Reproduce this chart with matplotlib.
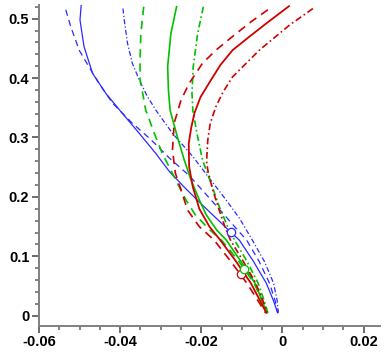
import matplotlib
matplotlib.use("Agg")
import matplotlib.pyplot as plt
from matplotlib.ticker import MultipleLocator

plt.rcParams['font.family'] = ['Liberation Sans', 'DejaVu Sans']
plt.rcParams['axes.unicode_minus'] = False

# ---- data (x, y), top to bottom ----
blue_solid_x = [-0.0496, -0.0499, -0.0494, -0.0489, -0.0468, -0.0435, -0.0395, -0.0353, -0.0312, -0.0279, -0.0240, -0.0200, -0.0160, -0.0128, -0.0106, -0.0072, -0.0040, -0.0022, -0.0012]
blue_solid_y = [0.523, 0.498, 0.475, 0.453, 0.408, 0.374, 0.341, 0.307, 0.273, 0.243, 0.215, 0.188, 0.162, 0.141, 0.127, 0.092, 0.055, 0.025, 0.005]

blue_dash_x = [-0.0534, -0.0522, -0.0501, -0.0477, -0.0452, -0.0419, -0.0370, -0.0325, -0.0278, -0.0230, -0.0184, -0.0150, -0.0118, -0.0088, -0.0058, -0.0032, -0.0018, -0.0012]
blue_dash_y = [0.515, 0.487, 0.447, 0.419, 0.391, 0.358, 0.324, 0.297, 0.265, 0.236, 0.201, 0.175, 0.150, 0.127, 0.092, 0.055, 0.025, 0.005]

blue_dd_x = [-0.0393, -0.0390, -0.0382, -0.0370, -0.0353, -0.0333, -0.0310, -0.0271, -0.0221, -0.0183, -0.0139, -0.0106, -0.0074, -0.0045, -0.0022, -0.0013, -0.0010]
blue_dd_y = [0.517, 0.498, 0.459, 0.425, 0.397, 0.369, 0.344, 0.307, 0.268, 0.234, 0.195, 0.164, 0.127, 0.092, 0.055, 0.025, 0.005]

green_solid_x = [-0.0261, -0.0275, -0.0283, -0.0281, -0.0277, -0.0259, -0.0242, -0.0225, -0.0205, -0.0188, -0.0163, -0.0138, -0.0103, -0.0068, -0.0050, -0.0038]
green_solid_y = [0.520, 0.475, 0.419, 0.380, 0.346, 0.301, 0.262, 0.228, 0.195, 0.170, 0.145, 0.127, 0.092, 0.055, 0.025, 0.005]

green_dash_x = [-0.0342, -0.0349, -0.0351, -0.0351, -0.0343, -0.0337, -0.0328, -0.0316, -0.0296, -0.0267, -0.0238, -0.0215, -0.0180, -0.0150, -0.0108, -0.0070, -0.0050, -0.0038]
green_dash_y = [0.520, 0.475, 0.430, 0.397, 0.369, 0.346, 0.330, 0.307, 0.273, 0.234, 0.195, 0.170, 0.145, 0.127, 0.092, 0.055, 0.025, 0.005]

green_dd_x = [-0.0195, -0.0209, -0.0220, -0.0223, -0.0221, -0.0209, -0.0197, -0.0176, -0.0156, -0.0135, -0.0118, -0.0088, -0.0060, -0.0045, -0.0036]
green_dd_y = [0.520, 0.475, 0.419, 0.374, 0.346, 0.301, 0.262, 0.223, 0.184, 0.150, 0.127, 0.092, 0.055, 0.025, 0.005]

red_solid_x = [0.0016, -0.0040, -0.0081, -0.0123, -0.0153, -0.0176, -0.0202, -0.0217, -0.0225, -0.0231, -0.0230, -0.0221, -0.0205, -0.0180, -0.0153, -0.0115, -0.0078, -0.0055, -0.0040]
red_solid_y = [0.521, 0.492, 0.470, 0.447, 0.422, 0.397, 0.368, 0.341, 0.316, 0.290, 0.251, 0.217, 0.180, 0.150, 0.127, 0.092, 0.055, 0.025, 0.005]

red_dash_x = [-0.0036, -0.0077, -0.0123, -0.0164, -0.0197, -0.0230, -0.0250, -0.0267, -0.0271, -0.0264, -0.0250, -0.0234, -0.0205, -0.0168, -0.0128, -0.0088, -0.0060, -0.0042]
red_dash_y = [0.515, 0.495, 0.470, 0.447, 0.425, 0.391, 0.363, 0.324, 0.279, 0.240, 0.212, 0.178, 0.150, 0.127, 0.092, 0.055, 0.025, 0.005]

red_dd_x = [0.0075, 0.0017, -0.0057, -0.0123, -0.0146, -0.0164, -0.0178, -0.0184, -0.0187, -0.0184, -0.0172, -0.0156, -0.0142, -0.0128, -0.0097, -0.0066, -0.0048, -0.0038]
red_dd_y = [0.517, 0.489, 0.447, 0.402, 0.377, 0.352, 0.324, 0.296, 0.260, 0.245, 0.212, 0.178, 0.150, 0.127, 0.092, 0.055, 0.025, 0.005]

circle_x = [-0.0103, -0.0094, -0.0128]
circle_y = [0.070, 0.078, 0.141]
circle_colors = ['#d00000', '#00c000', '#2a2aff']

x_ticks = [-0.06, -0.04, -0.02, 0, 0.02]
x_labels = ['-0.06', '-0.04', '-0.02', '0', '0.02']
y_ticks = [0, 0.1, 0.2, 0.3, 0.4, 0.5]
y_labels = ['0', '0.1', '0.2', '0.3', '0.4', '0.5']

BLUE = '#2a2aff'
GREEN = '#00c000'
RED = '#d00000'

fig = plt.figure(figsize=(3.9, 3.53), dpi=100)
ax = fig.add_axes([0.1, 0.0773, 0.874, 0.9085])

dashed = (0, (5, 3.5))
dashdot = (0, (4, 1.8, 1, 1.8))

ax.plot(blue_dash_x, blue_dash_y, color=BLUE, lw=0.9, ls=dashed)
ax.plot(blue_dd_x, blue_dd_y, color=BLUE, lw=0.9, ls=dashdot)
ax.plot(blue_solid_x, blue_solid_y, color=BLUE, lw=0.9, ls='-')
ax.plot(green_dash_x, green_dash_y, color=GREEN, lw=1.2, ls=dashed)
ax.plot(green_dd_x, green_dd_y, color=GREEN, lw=1.2, ls=dashdot)
ax.plot(green_solid_x, green_solid_y, color=GREEN, lw=1.2, ls='-')
ax.plot(red_dash_x, red_dash_y, color=RED, lw=1.2, ls=dashed)
ax.plot(red_dd_x, red_dd_y, color=RED, lw=1.2, ls=dashdot)
ax.plot(red_solid_x, red_solid_y, color=RED, lw=1.3, ls='-')

for cx, cy, cc in zip(circle_x, circle_y, circle_colors):
    ax.plot([cx], [cy], marker='o', ms=6, mfc='white', mec=cc, mew=0.9, ls='none')

ax.set_xlim(-0.06, 0.024)
ax.set_ylim(-0.0168, 0.523)

for s in ['top', 'right']:
    ax.spines[s].set_visible(False)
for s in ['left', 'bottom']:
    ax.spines[s].set_color('#808080')
    ax.spines[s].set_linewidth(1.4)

ax.set_xticks(x_ticks)
ax.set_xticklabels(x_labels)
ax.set_yticks(y_ticks)
ax.set_yticklabels(y_labels)
ax.xaxis.set_minor_locator(MultipleLocator(0.005))
ax.yaxis.set_minor_locator(MultipleLocator(0.02))
ax.tick_params(which='major', direction='out', length=5, width=1.3, color='#606060',
               labelsize=10.5, pad=2)
ax.tick_params(which='minor', direction='out', length=3, width=1.1, color='#606060')
for lab in ax.get_xticklabels() + ax.get_yticklabels():
    lab.set_fontweight('bold')

fig.savefig('out.png', dpi=100)
